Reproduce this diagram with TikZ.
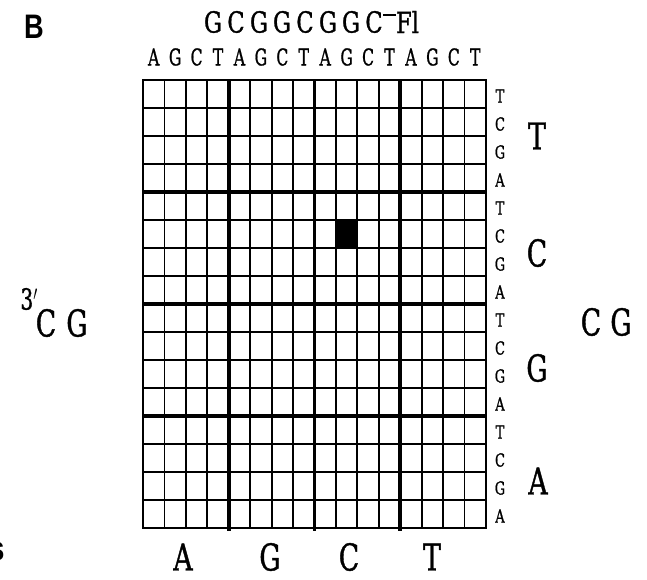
\documentclass[tikz,border=0pt]{standalone}
\usepackage{fontspec}
\newfontfamily\labfont[FakeBold=1.2]{DejaVu Serif}
\newfontfamily\panelfont{Liberation Sans}
\newcommand{\cnd}[2]{\scalebox{#1}[1]{#2}}
\tikzset{
  thingrid/.style={line width=1.8pt},
  thickgrid/.style={line width=3.6pt},
  outer/.style={line width=2.4pt},
  lab/.style={inner sep=0pt, outer sep=0pt, anchor=center},
  biglab/.style={lab, font=\labfont\fontsize{37}{37}\selectfont},
  seqlab/.style={lab, font=\labfont\fontsize{29}{29}\selectfont},
  collab/.style={lab, font=\labfont\fontsize{23}{23}\selectfont},
  rowlab/.style={lab, font=\labfont\fontsize{18}{18}\selectfont},
  panel/.style={lab, font=\panelfont\bfseries\fontsize{34}{34}\selectfont},
}
\begin{document}
\begin{tikzpicture}[x=1pt,y=-1pt]
\useasboundingbox (0,0) rectangle (647,579);
\fill[white] (0,0) rectangle (647,579);
% grid geometry
\def\gl{143}\def\gt{80}\def\cw{21.4375}\def\ch{28}
% filled cell (column 10 = G, row 6 = C)
\fill[black] (\gl+9*\cw,\gt+5*\ch) rectangle (\gl+10*\cw,\gt+6*\ch);
% thin lines
\foreach \i in {1,2,3,5,6,7,9,10,11,13,14,15}{
  \draw[thingrid] (\gl+\i*\cw,\gt) -- (\gl+\i*\cw,\gt+16*\ch);
  \draw[thingrid] (\gl,\gt+\i*\ch) -- (\gl+16*\cw,\gt+\i*\ch);
}
% thick lines
\foreach \i in {4,8,12}{
  \draw[thickgrid] (\gl+\i*\cw,\gt) -- (\gl+\i*\cw,\gt+16*\ch+3);
  \draw[thickgrid] (\gl,\gt+\i*\ch) -- (\gl+16*\cw,\gt+\i*\ch);
}
\draw[outer] (\gl,\gt) rectangle (\gl+16*\cw,\gt+16*\ch);
% panel letter
\node[panel] (panelB) at (34,27) {\cnd{0.8}{B}};
\node[panel] (panelS) at (-3,551) {\cnd{0.8}{s}};
% probe sequence
\foreach \c [count=\k from 0] in {G,C,G,G,C,G,G,C}{
  \node[seqlab] (probe\k) at (213+23*\k,22) {\cnd{0.78}{\c}};
}
\draw[line width=1.6pt] (383,15) -- (396,15);
\node[seqlab, anchor=west] (fl) at (396,22) {\cnd{0.78}{Fl}};
% column labels
\foreach \c [count=\k from 0] in {A,G,C,T,A,G,C,T,A,G,C,T,A,G,C,T}{
  \node[collab] (col\k) at (\gl+\cw*\k+\cw/2,57) {\cnd{0.68}{\c}};
}
% row labels
\foreach \c [count=\k from 0] in {T,C,G,A,T,C,G,A,T,C,G,A,T,C,G,A}{
  \node[rowlab] (row\k) at (500,\gt+\ch*\k+\ch/2+2) {\cnd{0.72}{\c}};
}
% big block labels right
\node[biglab] (rT) at (537,136) {\cnd{0.72}{T}};
\node[biglab] (rC) at (537,253) {\cnd{0.72}{C}};
\node[biglab] (rG) at (537,368) {\cnd{0.72}{G}};
\node[biglab] (rA) at (538,481) {\cnd{0.72}{A}};
% bottom labels
\node[biglab] (bA) at (183,557) {\cnd{0.72}{A}};
\node[biglab] (bG) at (270,557) {\cnd{0.72}{G}};
\node[biglab] (bC) at (349,557) {\cnd{0.72}{C}};
\node[biglab] (bT) at (432,557) {\cnd{0.72}{T}};
% left and right CG
\node[biglab] (lC) at (46,323) {\cnd{0.72}{C}};
\node[biglab] (lG) at (77,323) {\cnd{0.72}{G}};
\node[seqlab] (three) at (29,299) {\cnd{0.7}{3$'$}};
\node[biglab] (rrC) at (591,322) {\cnd{0.72}{C}};
\node[biglab] (rrG) at (621,322) {\cnd{0.72}{G}};
\end{tikzpicture}
\end{document}
